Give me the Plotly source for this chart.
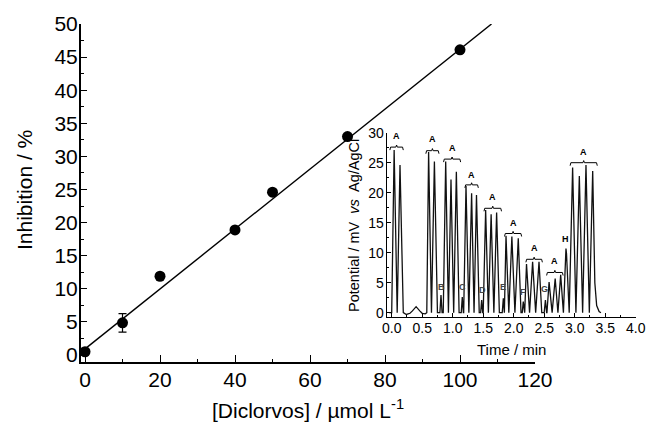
import plotly.graph_objects as go

# ---------------- main calibration data ----------------
conc = [0, 10, 20, 40, 50, 70, 100]
inhibition = [0.5, 4.87, 11.9, 18.9, 24.6, 33.0, 46.1]
inhibition_err = [0, 1.4, 0, 0, 0, 0, 0]
fit_x = [-0.4, 108.4]
fit_y = [0.75, 50.0]

main_xticks = [0, 20, 40, 60, 80, 100, 120]
main_yticks = [0, 5, 10, 15, 20, 25, 30, 35, 40, 45, 50]

# ---------------- inset FIA signal (vertices) ----------------
sig_time = [-0.04, 0.0, 0.04, 0.09, 0.136, 0.19, 0.24, 0.30, 0.34, 0.40, 0.46, 0.50, 0.55, 0.575,
            0.605, 0.652, 0.70, 0.75, 0.79, 0.808, 0.826, 0.845,
            0.885, 0.93, 0.972, 1.016, 1.06, 1.105, 1.14, 1.157, 1.175, 1.18,
            1.218, 1.265, 1.31, 1.35, 1.39, 1.435, 1.458, 1.475, 1.492, 1.50,
            1.54, 1.585, 1.63, 1.675, 1.72, 1.765, 1.812, 1.83, 1.847,
            1.874, 1.92, 1.97, 2.02, 2.075, 2.12, 2.14, 2.157, 2.175, 2.18,
            2.21, 2.26, 2.31, 2.36, 2.415, 2.46, 2.50, 2.52, 2.54, 2.545,
            2.58, 2.63, 2.68, 2.725, 2.77, 2.815, 2.857, 2.866, 2.91,
            2.966, 3.02, 3.076, 3.13, 3.185, 3.24, 3.295, 3.33, 3.36, 3.40, 3.43]
sig_potential = [0.0, 0.0, 27.1, 0.0, 24.6, 0.0, -0.3, -0.1, 0.3, 1.0, 0.3, -0.1, -0.2, 0.0,
                 26.8, 0.0, 25.2, 0.0, 0.0, 2.95, 0.0, 0.0,
                 25.2, 0.0, 22.2, 0.0, 23.5, 0.0, 0.0, 2.6, 0.0, 0.0,
                 21.1, 0.0, 19.9, 0.0, 19.6, 0.0, 0.0, 2.1, 0.0, 0.0,
                 17.1, 0.0, 16.4, 0.0, 16.7, 0.0, 0.0, 2.4, 0.0,
                 12.8, 0.0, 12.7, 0.0, 12.4, 0.0, 0.0, 1.85, 0.0, 0.0,
                 8.1, 0.0, 8.5, 0.0, 8.5, 0.0, 0.0, 2.1, 0.0, 0.0,
                 5.1, 0.0, 5.7, 0.0, 6.3, 0.0, 10.7, 9.8, 0.0,
                 24.2, 0.0, 22.8, 0.0, 24.6, 0.0, 23.6, 5.0, 1.2, 0.2, 0.0]

bracket_start = [-0.03, 0.56, 0.85, 1.20, 1.513, 1.85, 2.20, 2.54, 2.925]
bracket_end = [0.19, 0.775, 1.13, 1.42, 1.80, 2.13, 2.47, 2.81, 3.37]
bracket_level = [27.6, 27.0, 25.6, 21.3, 17.4, 13.2, 8.9, 6.7, 25.0]
bracket_label_y = [29.4, 28.9, 27.4, 23.0, 19.3, 15.0, 10.7, 8.6, 26.8]

small_labels = ["B", "C", "D", "E", "F", "G"]
small_label_t = [0.82, 1.163, 1.486, 1.825, 2.158, 2.497]
small_label_v = [4.3, 4.3, 3.8, 4.2, 3.45, 3.9]
h_label_t = 2.857
h_label_v = 12.3

inset_xticks = [0.0, 0.5, 1.0, 1.5, 2.0, 2.5, 3.0, 3.5, 4.0]
inset_yticks = [0, 5, 10, 15, 20, 25, 30]

W, H = 646, 423
FONT = "Liberation Sans, Arial, sans-serif"

fig = go.Figure()

fig.add_trace(go.Scatter(x=fit_x, y=fit_y, mode="lines",
                         line=dict(color="black", width=1.4),
                         xaxis="x", yaxis="y", showlegend=False, hoverinfo="skip"))
fig.add_trace(go.Scatter(x=conc, y=inhibition, mode="markers",
                         marker=dict(color="black", size=11),
                         error_y=dict(type="data", array=inhibition_err, visible=True,
                                      color="black", thickness=1.2, width=4),
                         xaxis="x", yaxis="y", showlegend=False))

fig.add_trace(go.Scatter(x=sig_time, y=sig_potential, mode="lines",
                         line=dict(color="#111111", width=1.3),
                         xaxis="x2", yaxis="y2", showlegend=False, hoverinfo="skip"))

for s, e, lv in zip(bracket_start, bracket_end, bracket_level):
    m = (s + e) / 2
    bx = [s, s + 0.012, m - 0.012, m, m + 0.012, e - 0.012, e]
    by = [lv - 0.5, lv, lv, lv + 0.35, lv, lv, lv - 0.5]
    fig.add_trace(go.Scatter(x=bx, y=by, mode="lines",
                             line=dict(color="black", width=1.0),
                             xaxis="x2", yaxis="y2", showlegend=False, hoverinfo="skip"))

annotations = []
for s, e, ly in zip(bracket_start, bracket_end, bracket_label_y):
    annotations.append(dict(x=(s + e) / 2, y=ly, xref="x2", yref="y2", text="<b>A</b>",
                            xanchor="center", yanchor="middle",
                            showarrow=False, font=dict(family=FONT, size=9, color="black")))
for lab, t, v in zip(small_labels, small_label_t, small_label_v):
    annotations.append(dict(x=t, y=v, xref="x2", yref="y2", text="<b>%s</b>" % lab,
                            xanchor="center", yanchor="middle",
                            showarrow=False, font=dict(family=FONT, size=9, color="#444444")))
annotations.append(dict(x=h_label_t, y=h_label_v, xref="x2", yref="y2", text="<b>H</b>",
                        xanchor="center", yanchor="middle",
                        showarrow=False, font=dict(family=FONT, size=9, color="black")))

annotations.append(dict(x=24 / W, y=1 - 190 / H, xref="paper", yref="paper",
                        xanchor="center", yanchor="middle",
                        text="Inhibition / %", textangle=-90, showarrow=False,
                        font=dict(family=FONT, size=21, color="black")))
annotations.append(dict(x=308 / W, y=1 - 409 / H, xref="paper", yref="paper",
                        xanchor="center", yanchor="middle",
                        text="[Diclorvos] / µmol L<sup>-1</sup>", showarrow=False,
                        font=dict(family=FONT, size=21, color="black")))
annotations.append(dict(x=354 / W, y=1 - 226 / H, xref="paper", yref="paper",
                        xanchor="center", yanchor="middle",
                        text="Potential / mV  <i>vs</i>  Ag/AgCl", textangle=-90, showarrow=False,
                        font=dict(family=FONT, size=14.5, color="black")))
annotations.append(dict(x=511 / W, y=1 - 349 / H, xref="paper", yref="paper",
                        xanchor="center", yanchor="middle",
                        text="Time / min", showarrow=False,
                        font=dict(family=FONT, size=15, color="black")))

main_axis_common = dict(showgrid=False, zeroline=False, showline=True, linecolor="black",
                        linewidth=1.5, ticks="inside", tickcolor="black", tickwidth=1.3,
                        ticklen=7, tickfont=dict(family=FONT, size=21, color="black"),
                        mirror=False, automargin=False)
inset_axis_common = dict(showgrid=False, zeroline=False, showline=True, linecolor="black",
                         linewidth=1.0, ticks="inside", tickcolor="black", tickwidth=1.0,
                         ticklen=4, tickfont=dict(family=FONT, size=14, color="black"),
                         mirror=False, automargin=False)

fig.update_layout(
    width=W, height=H, autosize=False,
    margin=dict(l=0, r=0, t=0, b=0, pad=0, autoexpand=False),
    paper_bgcolor="white", plot_bgcolor="rgba(0,0,0,0)",
    showlegend=False,
    xaxis=dict(domain=[80.7 / W, 535 / W], range=[-1.15, 120], anchor="y",
               tickvals=main_xticks, ticklabelstandoff=-2,
               minor=dict(dtick=10, tick0=0, ticks="inside", ticklen=3.5, tickcolor="black", tickwidth=1.2),
               **main_axis_common),
    yaxis=dict(domain=[1 - 362 / H, 1 - 24 / H], range=[-1.05, 50], anchor="x",
               tickvals=main_yticks, ticklabelstandoff=-3,
               minor=dict(dtick=2.5, tick0=0, ticks="inside", ticklen=4, tickcolor="black", tickwidth=1.2),
               **main_axis_common),
    xaxis2=dict(domain=[386.7 / W, 636 / W], range=[-0.082, 4.005], anchor="y2",
                tickvals=inset_xticks, ticktext=["%.1f" % v for v in inset_xticks],
                ticklabelstandoff=-2,
                minor=dict(dtick=0.25, tick0=0, ticks="inside", ticklen=2, tickcolor="black"),
                **inset_axis_common),
    yaxis2=dict(domain=[1 - 316.7 / H, 1 - 132.7 / H], range=[-0.67, 30], anchor="x2",
                tickvals=inset_yticks, ticklabelstandoff=-1,
                minor=dict(dtick=2.5, tick0=0, ticks="inside", ticklen=2, tickcolor="black"),
                **inset_axis_common),
    annotations=annotations,
)

fig.write_html("out.html", config={"displayModeBar": False},
               post_script="document.body.style.margin='0';")
